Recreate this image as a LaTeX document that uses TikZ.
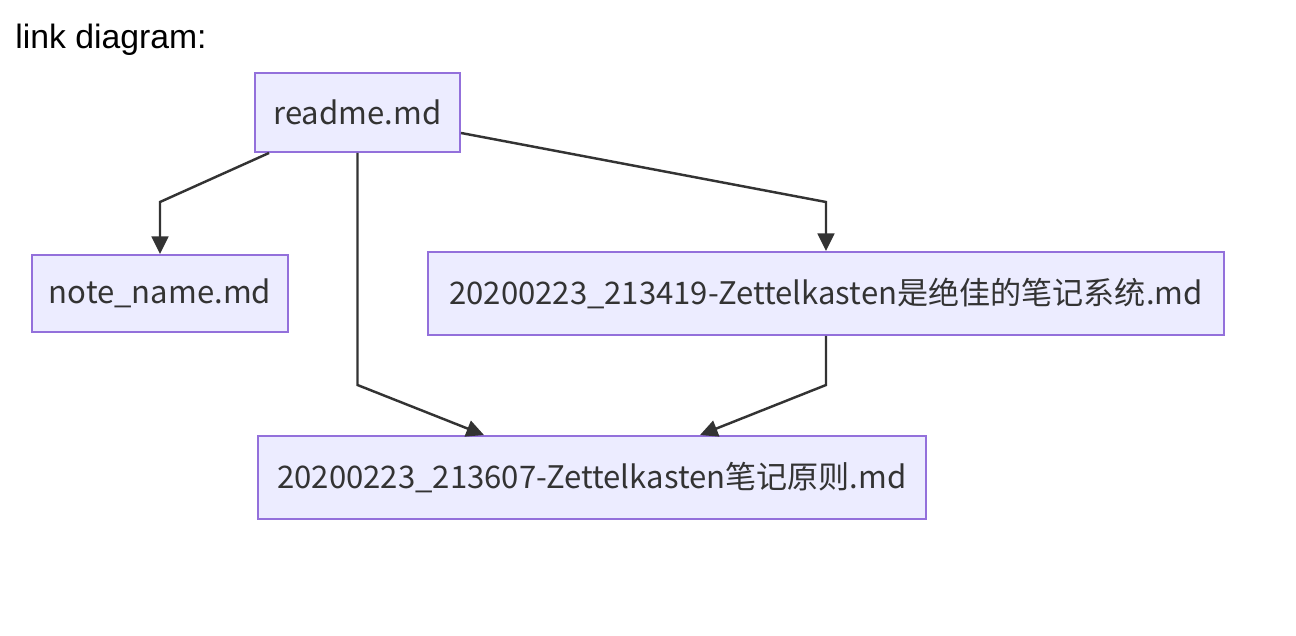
\documentclass[tikz,border=0pt]{standalone}
\usepackage{fontspec}
\usepackage{tikz}
\usetikzlibrary{arrows.meta,calc}
\setmainfont{Liberation Sans}
\newfontfamily\notefont{Noto Sans CJK SC}
\definecolor{BoxFill}{HTML}{ECECFF}
\definecolor{BoxLine}{HTML}{9370DB}
\definecolor{LinkInk}{HTML}{333333}
\tikzset{
  diagram/.style={x=0.02cm,y=-0.02cm},
  note/.style={draw=BoxLine,line width=1.1pt,fill=BoxFill,text=LinkInk,
    font=\notefont\fontsize{17.7}{22}\selectfont,inner sep=0pt},
  link/.style={-{Triangle[length=10pt,width=9.5pt]},line width=1.4pt,draw=LinkInk},
}

\begin{document}
\begin{tikzpicture}[diagram]
  \useasboundingbox (0,0) rectangle (1296,636);

  \node[anchor=base west,font=\fontsize{19.2}{23}\selectfont,inner sep=0pt] (title) at (15,48) {link diagram:};

  \node[note,minimum width=4.1cm,minimum height=1.58cm] (readme) at (357.5,112.5) {readme.md};
  \node[note,minimum width=5.12cm,minimum height=1.54cm] (name) at (160,293.5) {note\_name.md};
  \node[note,minimum width=15.92cm,minimum height=1.66cm] (system) at (826,293.5)
    {20200223\_213419-Zettelkasten是绝佳的笔记系统.md};
  \node[note,minimum width=13.36cm,minimum height=1.66cm] (rules) at (592,477.5)
    {20200223\_213607-Zettelkasten笔记原则.md};

  \draw[link] ($(readme.south west)+(15,0)$) -- (name.north |- 0,202) -- (name.north);
  \draw[link] ($(readme.south east)+(0,-20)$) -- (system.north |- 0,202) -- (system.north);
  \draw[link] (readme.south) -- (readme.south |- 0,385) -- ($(rules.north)+(-108,0)$);
  \draw[link] (system.south) -- (system.south |- 0,385) -- ($(rules.north)+(108,0)$);
\end{tikzpicture}
\end{document}
